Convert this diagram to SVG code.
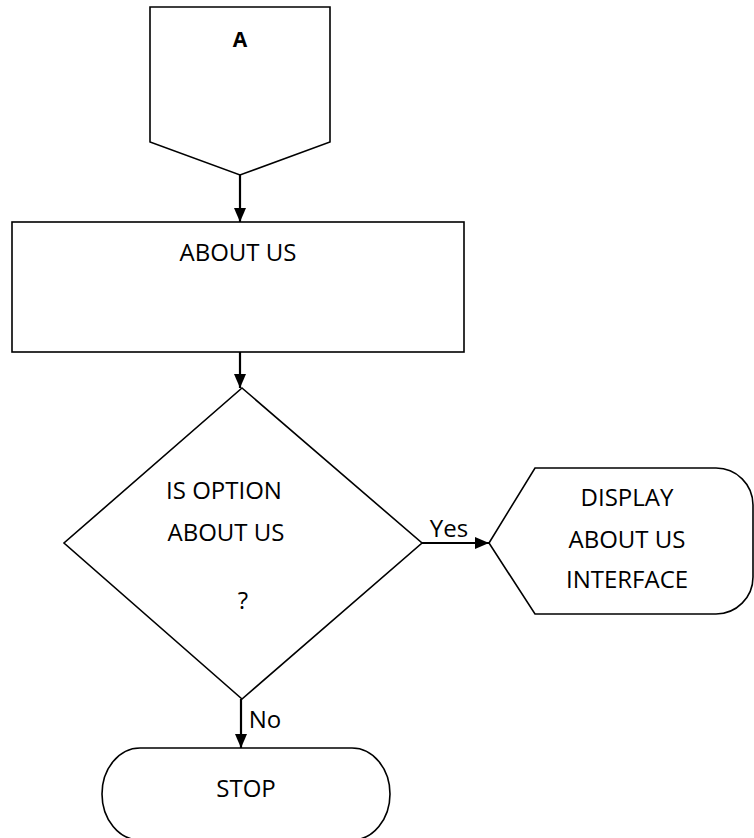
<svg xmlns="http://www.w3.org/2000/svg" width="754" height="838" viewBox="0 0 754 838">
<defs>
<style>
.s{fill:#fff;stroke:#000;stroke-width:1.6;stroke-linejoin:miter}
.t{font-family:"Open Sans","Liberation Sans",sans-serif;font-size:24px;fill:#000;text-anchor:middle}
.b{font-weight:bold;font-size:21px}
.c{stroke:#000;stroke-width:2.2;fill:none}
</style>
<marker id="ah" markerWidth="14" markerHeight="12" refX="14" refY="6" orient="auto" markerUnits="userSpaceOnUse">
<path d="M0,0 L14,6 L0,12 Z" fill="#000"/>
</marker>
</defs>
<rect width="754" height="838" fill="#fff"/>
<g id="connector-A">
<path class="s" d="M150,7 L330,7 L330,142 L240,175 L150,142 Z"/>
<text class="t b" x="240" y="47">A</text>
</g>
<g id="about-us">
<rect class="s" x="12" y="222" width="452" height="130"/>
<text class="t" x="238" y="261">ABOUT US</text>
</g>
<g id="decision">
<path class="s" d="M242,388 L422,543 L242,699 L64,543 Z"/>
<text class="t" x="224" y="499">IS OPTION</text>
<text class="t" x="226" y="541">ABOUT US</text>
<text class="t" x="243" y="609">?</text>
</g>
<g id="display">
<path class="s" d="M535,468 L716,468 A37,37 0 0 1 753,505 L753,577 A37,37 0 0 1 716,614 L535,614 L489,543 Z"/>
<text class="t" x="627" y="506">DISPLAY</text>
<text class="t" x="627" y="548">ABOUT US</text>
<text class="t" x="627" y="588">INTERFACE</text>
</g>
<g id="stop">
<rect class="s" x="102" y="748" width="288" height="92" rx="38" ry="46"/>
<text class="t" x="246" y="797">STOP</text>
</g>
<g id="connectors">
<line class="c" x1="240" y1="175" x2="240" y2="222" marker-end="url(#ah)"/>
<line class="c" x1="240" y1="352" x2="240" y2="388" marker-end="url(#ah)"/>
<line class="c" x1="422" y1="543" x2="489" y2="543" marker-end="url(#ah)"/>
<line class="c" x1="241" y1="699" x2="241" y2="748" marker-end="url(#ah)"/>
<text class="t" x="449" y="537">Yes</text>
<text class="t" x="265" y="728">No</text>
</g>
</svg>
